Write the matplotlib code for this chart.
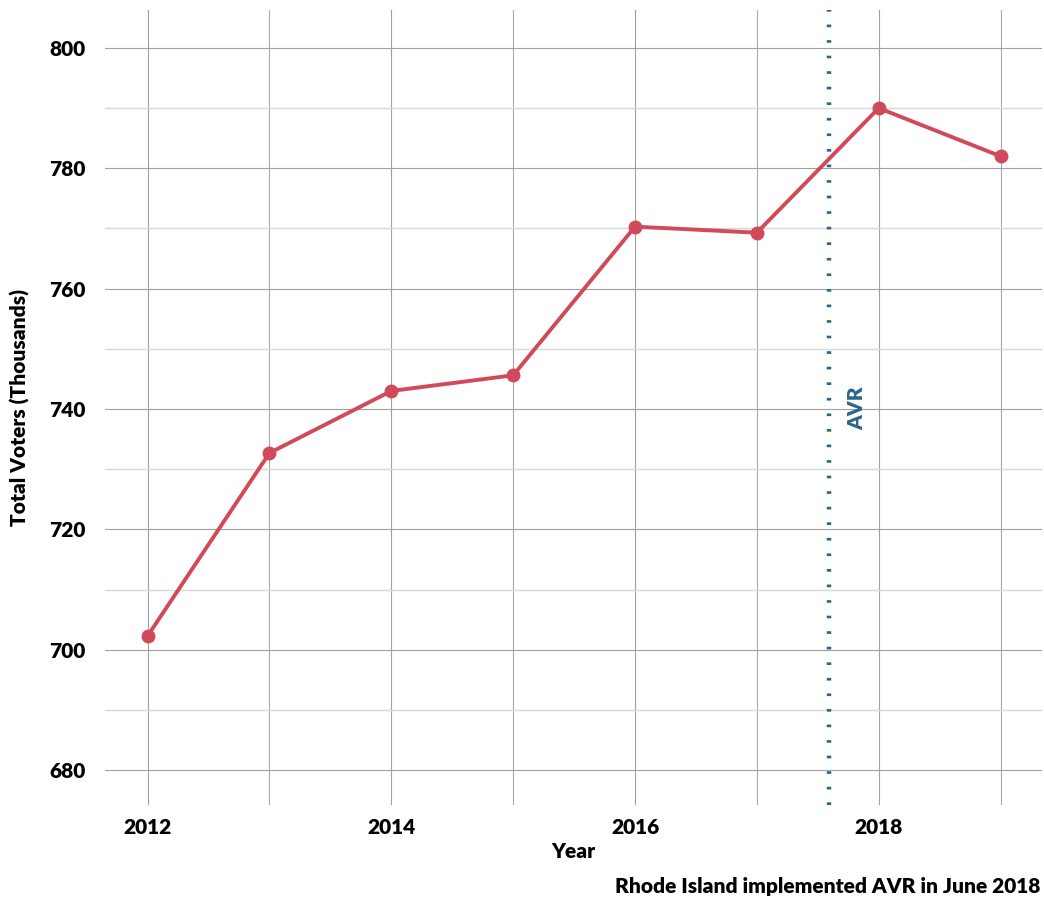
import matplotlib
matplotlib.use("Agg")
import matplotlib.pyplot as plt
from matplotlib.ticker import MultipleLocator

plt.rcParams['font.family'] = ['Lato', 'DejaVu Sans']
plt.rcParams['font.weight'] = 'bold'

# Datos (miles de votantes registrados)
anios = [2012, 2013, 2014, 2015, 2016, 2017, 2018, 2019]
votantes = [702.3, 732.7, 743.0, 745.6, 770.3, 769.3, 790.0, 782.0]
x_ticks = [2012, 2014, 2016, 2018]
y_ticks = [680, 700, 720, 740, 760, 780, 800]
fecha_avr = 2017.59

fig = plt.figure(figsize=(10.44, 9), dpi=100)
ax = fig.add_axes([105 / 1044, 95 / 900, 937 / 1044, 795 / 900])

ax.plot(anios, votantes, color='#d14a5a', linewidth=2.8, marker='o',
        markersize=9, zorder=3)
ax.axvline(fecha_avr, color='#2a6689', linewidth=3.2, linestyle=(0, (0.6, 2.9)),
           zorder=2)
ax.text(fecha_avr + 0.23, 740.2, "AVR", rotation=90, color='#2a6689',
        fontsize=15, fontweight='heavy', ha='center', va='center')

ax.set_xlim(2011.65, 2019.34)
ax.set_ylim(674.2, 806.3)
ax.set_xticks(x_ticks)
ax.xaxis.set_minor_locator(MultipleLocator(1))
ax.set_yticks(y_ticks)
ax.yaxis.set_minor_locator(MultipleLocator(10))

ax.grid(which='major', color='#a0a0a0', linewidth=0.8)
ax.grid(which='minor', axis='y', color='#d8d8d8', linewidth=1.0)
ax.grid(which='minor', axis='x', color='#a8a8a8', linewidth=0.8)
ax.set_axisbelow(True)
for s in ax.spines.values():
    s.set_visible(False)
ax.tick_params(which='both', length=0, labelsize=15)
ax.tick_params(axis='x', pad=9)
ax.tick_params(axis='y', pad=14)
for lbl in ax.get_xticklabels() + ax.get_yticklabels():
    lbl.set_fontweight('heavy')

ax.set_xlabel("Year", fontsize=15, fontweight='heavy', labelpad=4)
ax.set_ylabel("Total Voters (Thousands)", fontsize=15, fontweight='heavy',
              labelpad=14)

fig.text(1040 / 1044, 1 - 887 / 900, "Rhode Island implemented AVR in June 2018",
         ha='right', va='center', fontsize=15, fontweight='heavy')

plt.savefig("out.png", dpi=100)
